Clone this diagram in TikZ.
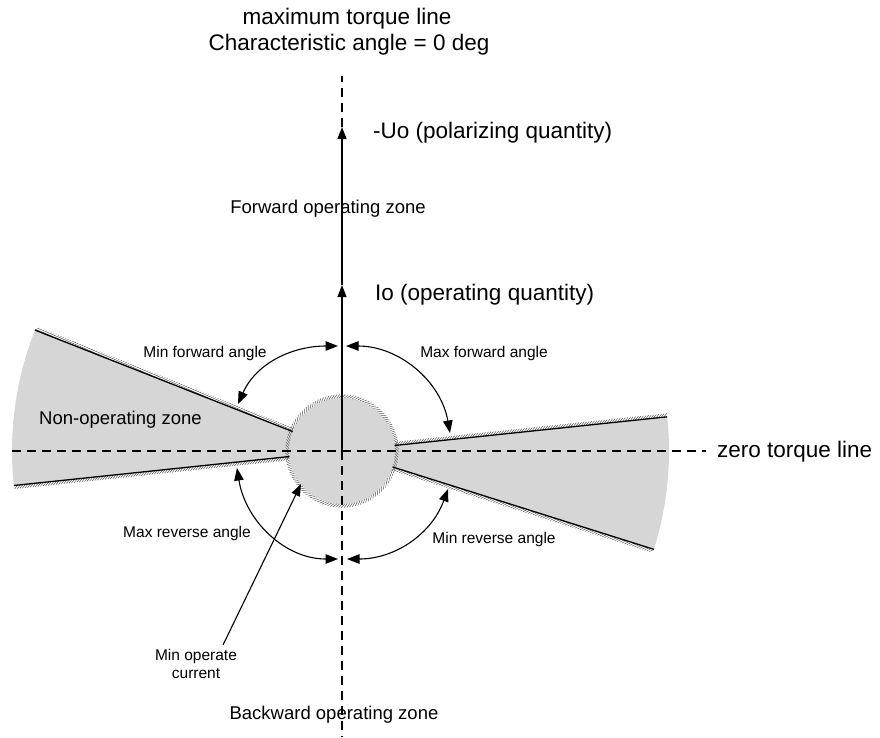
\documentclass[tikz,border=0pt]{standalone}
\usepackage{fontspec}
\setmainfont{Liberation Sans}
\usetikzlibrary{arrows.meta,decorations.pathreplacing,calc}
\begin{document}
\begin{tikzpicture}[x=1pt,y=1pt,
  solidline/.style={line width=1.3pt},
  dashline/.style={line width=1.3pt, dash pattern=on 9pt off 6pt},
  hatch/.style={draw=black!65, line width=0.5pt, decorate,
    decoration={border, segment length=2.6pt, amplitude=5pt, angle=45}},
  zonefill/.style={fill=black!16},
  arrowtip/.style={-{Triangle[length=12pt,width=9pt]}},
  dtip/.style={{Triangle[length=12.5pt,width=9.5pt]}-{Triangle[length=12.5pt,width=9.5pt]}, line width=1.1pt},
  labelbig/.style={font=\fontsize{22.5}{26}\selectfont, inner sep=0pt},
  labelmid/.style={font=\fontsize{18.5}{22}\selectfont, inner sep=0pt},
  labelsmall/.style={font=\fontsize{15.5}{17.5}\selectfont, inner sep=0pt},
]
\useasboundingbox (0,0) rectangle (880,-737);
\coordinate (C) at (342,-451);
% outer and inner ends of the zone boundaries
\coordinate (ULo) at ($(C)+(158.5:330)$); \coordinate (ULi) at ($(C)+(158.5:53)$);
\coordinate (LLo) at ($(C)+(186:330)$);   \coordinate (LLi) at ($(C)+(186:53)$);
\coordinate (URo) at ($(C)+(6:327)$);     \coordinate (URi) at ($(C)+(6:53)$);
\coordinate (LRo) at ($(C)+(-17.5:327)$); \coordinate (LRi) at ($(C)+(-17.5:53)$);
% zone fills
\fill[zonefill] (C) -- (ULo) arc[start angle=158.5, end angle=186, radius=330] -- cycle;
\fill[zonefill] (C) -- (LRo) arc[start angle=-17.5, end angle=6, radius=327] -- cycle;
\fill[zonefill] (C) circle[radius=53];
% hatching
\draw[hatch] (ULo) -- (ULi);
\draw[hatch] (LLi) -- (LLo);
\draw[hatch] (URi) -- (URo);
\draw[hatch] (LRo) -- (LRi);
\draw[hatch] ($(C)+(0:53)$) arc[start angle=0, end angle=-360, radius=53];
% boundary lines
\draw[solidline] (ULo) -- (ULi);
\draw[solidline] (LLo) -- (LLi);
\draw[solidline] (URo) -- (URi);
\draw[solidline] (LRo) -- (LRi);
% axes
\coordinate (Uo) at (342,-127);
\coordinate (Io) at (342,-285);
\coordinate (Vtop) at (342,-76);
\coordinate (Vbot) at (342,-737);
\coordinate (Hl) at (12,-451);
\coordinate (Hr) at (706,-451);
\draw[dashline] (Hl) -- (Hr);
\draw[dashline] (C) -- (Vbot);
\draw[dashline] (Uo) -- (Vtop);
\draw[solidline, arrowtip] (C) -- (Io);
\draw[solidline, arrowtip] (Io) -- (Uo);
% angle arrows
\coordinate (T1) at (338,-346); \coordinate (A1) at (238,-404);
\coordinate (T2) at (346,-346); \coordinate (A2) at (450,-433);
\coordinate (B3) at (338,-559); \coordinate (A3) at (237,-468);
\coordinate (B4) at (347,-559); \coordinate (A4) at (448,-489);
\draw[dtip] (T1) to[out=180,in=66] (A1);
\draw[dtip] (T2) to[out=0,in=100] (A2);
\draw[dtip] (B3) to[out=180,in=-81] (A3);
\draw[dtip] (B4) to[out=0,in=-110] (A4);
% labels
\node[labelbig] (t1) at (347,-19) {maximum torque line};
\node[labelbig] (t2) at (349,-45) {Characteristic angle = 0 deg};
\node[labelbig, anchor=west] (uo) at (373,-133) {-Uo (polarizing quantity)};
\node[labelmid] (fz) at (328,-209) {Forward operating zone};
\node[labelbig, anchor=west] (io) at (375,-295) {Io (operating quantity)};
\node[labelsmall] (minf) at (205,-353) {Min forward angle};
\node[labelsmall] (maxf) at (484,-353) {Max forward angle};
\node[labelmid, anchor=west] (noz) at (39,-420) {Non-operating zone};
\node[labelbig, anchor=west] (ztl) at (717,-452) {zero torque line};
\node[labelsmall] (maxr) at (187,-533) {Max reverse angle};
\node[labelsmall] (minr) at (494,-539) {Min reverse angle};
\node[labelsmall, align=center] (moc) at (196,-664) {Min operate\\current};
\node[labelmid] (bz) at (334,-715) {Backward operating zone};
% min operate current pointer
\coordinate (mocS) at (223,-645);
\coordinate (mocT) at (301,-484);
\draw[line width=1.1pt, arrowtip] (mocS) -- (mocT);
\end{tikzpicture}
\end{document}
